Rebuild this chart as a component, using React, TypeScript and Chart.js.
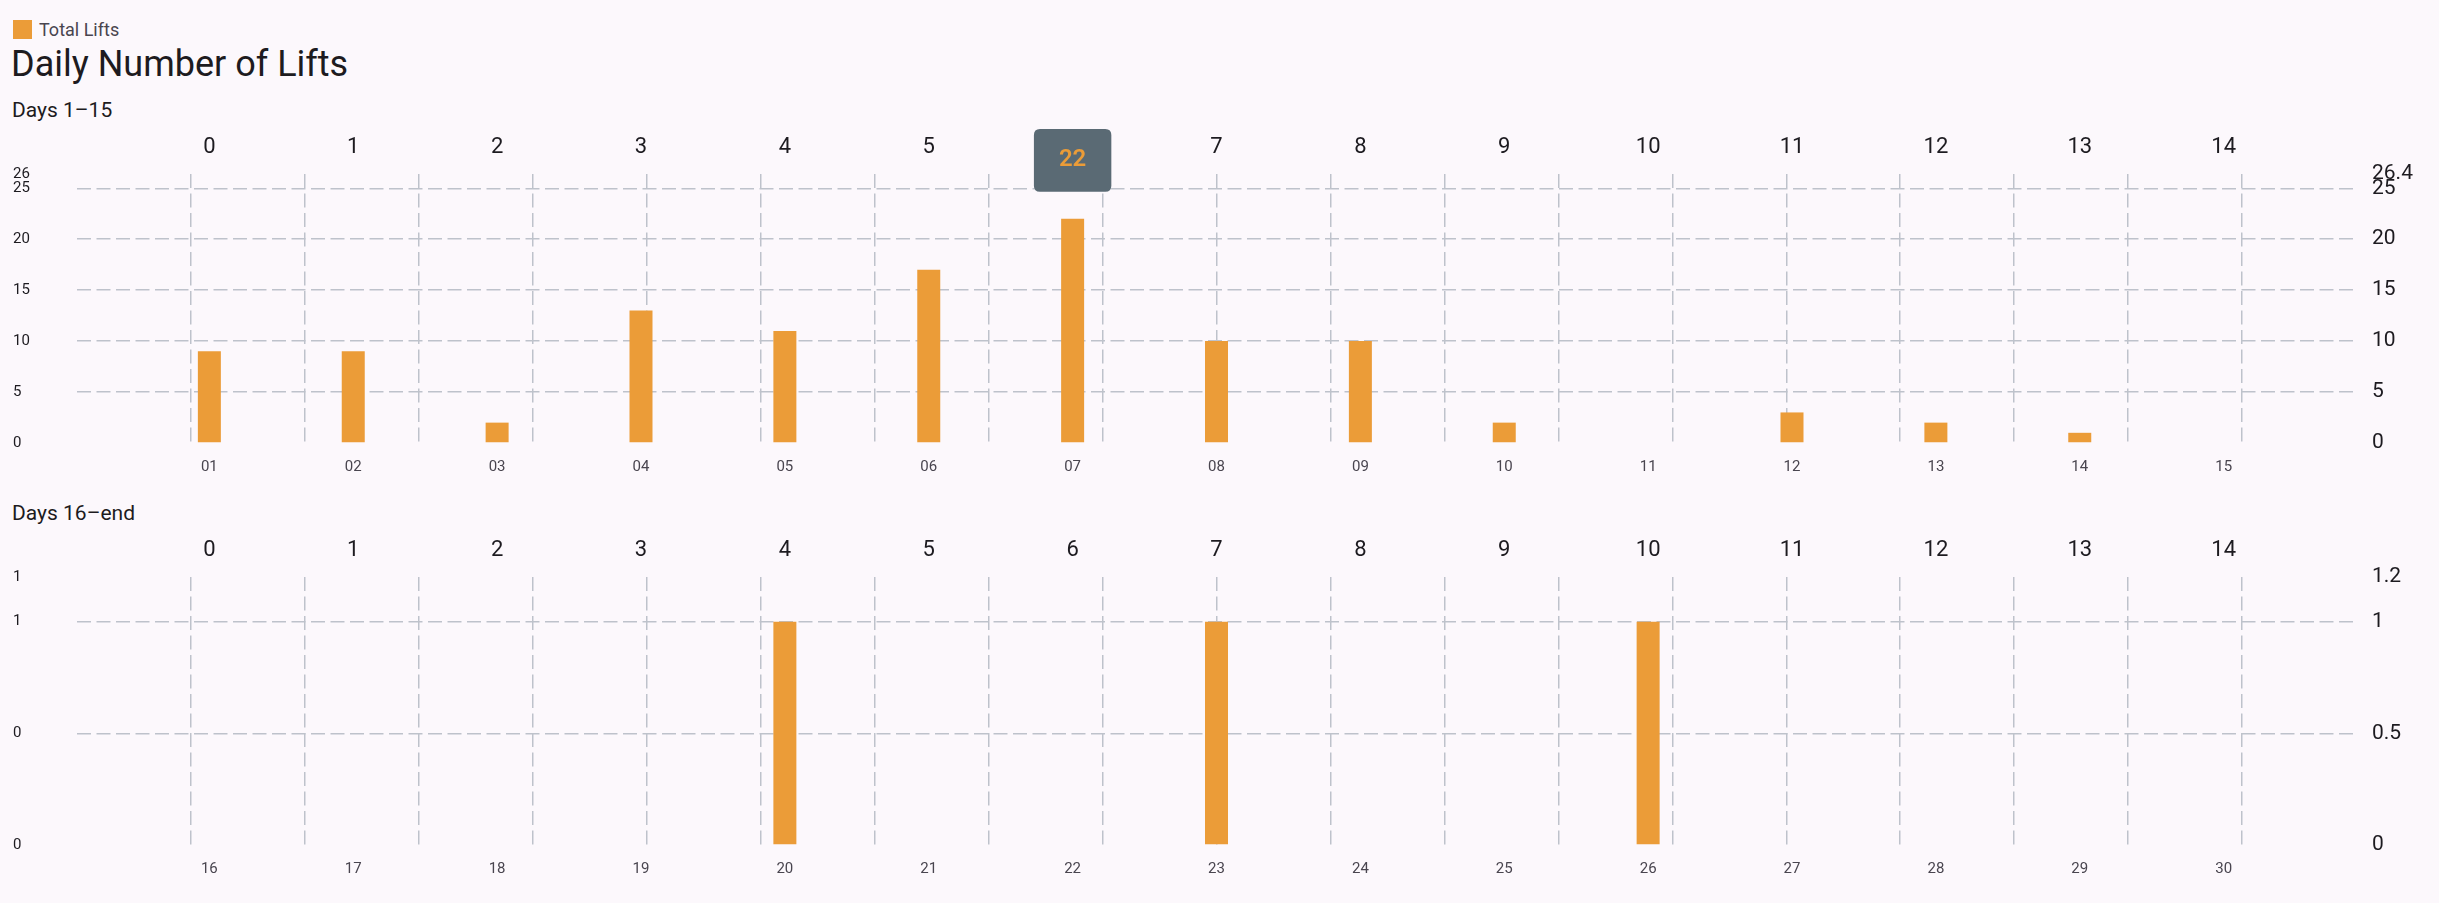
import { useEffect, useRef } from "react";
import { Chart, registerables, type ChartConfiguration } from "chart.js";

Chart.register(...registerables);

// values
const DAY_INDEX = [0, 1, 2, 3, 4, 5, 6, 7, 8, 9, 10, 11, 12, 13, 14];
const DAYS_FIRST = ["01", "02", "03", "04", "05", "06", "07", "08", "09", "10", "11", "12", "13", "14", "15"];
const LIFTS_FIRST = [9, 9, 2, 13, 11, 17, 22, 10, 10, 2, 0, 3, 2, 1, 0];
const DAYS_SECOND = ["16", "17", "18", "19", "20", "21", "22", "23", "24", "25", "26", "27", "28", "29", "30"];
const LIFTS_SECOND = [0, 0, 0, 0, 1, 0, 0, 1, 0, 0, 1, 0, 0, 0, 0];
const Y_TICKS_FIRST = [0, 5, 10, 15, 20, 25, 26.4];
const Y_TICKS_SECOND = [0, 0.5, 1, 1.2];
const HIGHLIGHT_DAY = 6;

const BG = "#FCF8FC";
const BAR = "#EB9C38";
const GRID = "#BEC2CB";
const TEXT = "#1D1B20";
const MUTED = "#49454F";
const DASH = [14, 5.5];
// bars are spread "space evenly" over the plot, so pad the index range
const X_MIN = -0.92;
const X_MAX = 14.92;

Chart.defaults.font.family = "Roboto";

function buildConfig(
  days: string[],
  values: number[],
  yTicks: number[],
  topH: number,
  bottomH: number,
  highlight: boolean
): ChartConfiguration<"bar"> {
  const yMax = yTicks[yTicks.length - 1];
  return {
    type: "bar",
    data: {
      datasets: [
        {
          label: "Total Lifts",
          data: DAY_INDEX.map((x, i) => ({ x, y: values[i] })),
          backgroundColor: BAR,
          hoverBackgroundColor: BAR,
          borderWidth: 0,
          inflateAmount: 0,
          barThickness: 23,
          xAxisID: "x",
          yAxisID: "y",
        },
      ],
    },
    options: {
      responsive: true,
      maintainAspectRatio: false,
      animation: false,
      events: [],
      layout: { padding: { left: 13, right: 0, top: 0, bottom: 0 } },
      scales: {
        x: {
          type: "linear",
          position: "bottom",
          min: X_MIN,
          max: X_MAX,
          bounds: "data",
          offset: false,
          afterBuildTicks: (s) => {
            s.ticks = DAY_INDEX.map((value) => ({ value }));
          },
          ticks: {
            callback: (v) => days[Number(v)],
            font: { size: 15 },
            color: MUTED,
            padding: 7,
            autoSkip: false,
            maxRotation: 0,
          },
          grid: { display: false, offset: false },
          border: { display: false },
          afterFit: (s) => {
            s.height = bottomH;
          },
        },
        xTop: {
          type: "linear",
          position: "top",
          min: X_MIN,
          max: X_MAX,
          bounds: "data",
          offset: false,
          afterBuildTicks: (s) => {
            s.ticks = DAY_INDEX.map((value) => ({ value }));
          },
          ticks: {
            callback: (v) => String(v),
            font: { size: 22 },
            color: TEXT,
            padding: 5,
            autoSkip: false,
            maxRotation: 0,
          },
          grid: { display: false, offset: false },
          border: { display: false },
          afterFit: (s) => {
            s.height = topH;
          },
        },
        xGrid: {
          type: "linear",
          position: "bottom",
          min: 0,
          max: 20,
          offset: false,
          ticks: { display: false, stepSize: 1 },
          grid: {
            offset: false,
            drawTicks: false,
            lineWidth: 1.5,
            color: (ctx) =>
              ctx.tick && (ctx.tick.value === 0 || ctx.tick.value === 20) ? "transparent" : GRID,
          },
          border: { display: false, dash: DASH },
          afterFit: (s) => {
            s.height = 0;
          },
        },
        y: {
          type: "linear",
          position: "left",
          min: 0,
          max: yMax,
          bounds: "data",
          afterBuildTicks: (s) => {
            s.ticks = yTicks.map((value) => ({ value }));
          },
          ticks: {
            callback: (v) => String(Math.floor(Number(v))),
            font: { size: 15 },
            color: TEXT,
            crossAlign: "far",
            autoSkip: false,
          },
          grid: {
            drawTicks: false,
            lineWidth: 1.5,
            color: (ctx) =>
              ctx.tick && (ctx.tick.value === 0 || ctx.tick.value === yMax) ? "transparent" : GRID,
          },
          border: { display: false, dash: DASH },
          afterFit: (s) => {
            s.width = 64;
          },
        },
        yRight: {
          type: "linear",
          position: "right",
          min: 0,
          max: yMax,
          bounds: "data",
          afterBuildTicks: (s) => {
            s.ticks = yTicks.map((value) => ({ value }));
          },
          ticks: {
            callback: (v) => String(v),
            font: { size: 21 },
            color: TEXT,
            padding: 16,
            crossAlign: "near",
            autoSkip: false,
          },
          grid: { display: false, drawTicks: false },
          border: { display: false },
          afterFit: (s) => {
            s.width = 83;
          },
        },
      },
      plugins: {
        legend: { display: false },
        title: { display: false },
        tooltip: {
          enabled: highlight,
          backgroundColor: "#5A6A74",
          displayColors: false,
          bodyColor: BAR,
          bodyAlign: "center",
          bodyFont: { size: 24, weight: 600 },
          padding: { top: 17, bottom: 17, left: 25, right: 25 },
          cornerRadius: 6,
          caretSize: 0,
          caretPadding: 27,
          xAlign: "center",
          yAlign: "bottom",
          borderWidth: 0,
          callbacks: {
            title: () => "",
            label: (ctx) => String(ctx.parsed.y),
          },
        },
      },
    },
  };
}

function DayChart({
  days,
  values,
  yTicks,
  topH,
  bottomH,
  highlight,
}: {
  days: string[];
  values: number[];
  yTicks: number[];
  topH: number;
  bottomH: number;
  highlight: number | null;
}) {
  const ref = useRef<HTMLCanvasElement>(null);

  useEffect(() => {
    if (!ref.current) return;
    const chart = new Chart(ref.current, buildConfig(days, values, yTicks, topH, bottomH, highlight !== null));
    if (highlight !== null && chart.tooltip) {
      chart.tooltip.setActiveElements([{ datasetIndex: 0, index: highlight }], { x: 0, y: 0 });
      chart.update();
    }
    return () => chart.destroy();
  }, [days, values, yTicks, topH, bottomH, highlight]);

  return <canvas ref={ref} />;
}

const abs = (left: number, top: number, size: number, color: string): React.CSSProperties => ({
  position: "absolute",
  left,
  top,
  fontSize: size,
  lineHeight: 1,
  color,
  whiteSpace: "nowrap",
});

export default function App() {
  return (
    <div
      style={{
        position: "fixed",
        left: 0,
        top: 0,
        width: 2439,
        height: 903,
        background: BG,
        fontFamily: "Roboto, sans-serif",
        overflow: "hidden",
      }}
    >
      <div style={{ position: "absolute", left: 13, top: 20, width: 19, height: 19, background: BAR }} />
      <div style={abs(39, 21, 18, MUTED)}>Total Lifts</div>
      <div style={abs(11, 46, 36, TEXT)}>Daily Number of Lifts</div>
      <div style={abs(12, 100, 21, TEXT)}>Days 1–15</div>
      <div style={{ position: "absolute", left: 0, top: 125, width: 2439, height: 355 }}>
        <DayChart
          days={DAYS_FIRST}
          values={LIFTS_FIRST}
          yTicks={Y_TICKS_FIRST}
          topH={49}
          bottomH={37}
          highlight={HIGHLIGHT_DAY}
        />
      </div>
      <div style={abs(12, 503, 21, TEXT)}>Days 16–end</div>
      <div style={{ position: "absolute", left: 0, top: 525, width: 2439, height: 370 }}>
        <DayChart
          days={DAYS_SECOND}
          values={LIFTS_SECOND}
          yTicks={Y_TICKS_SECOND}
          topH={52}
          bottomH={50}
          highlight={null}
        />
      </div>
    </div>
  );
}
